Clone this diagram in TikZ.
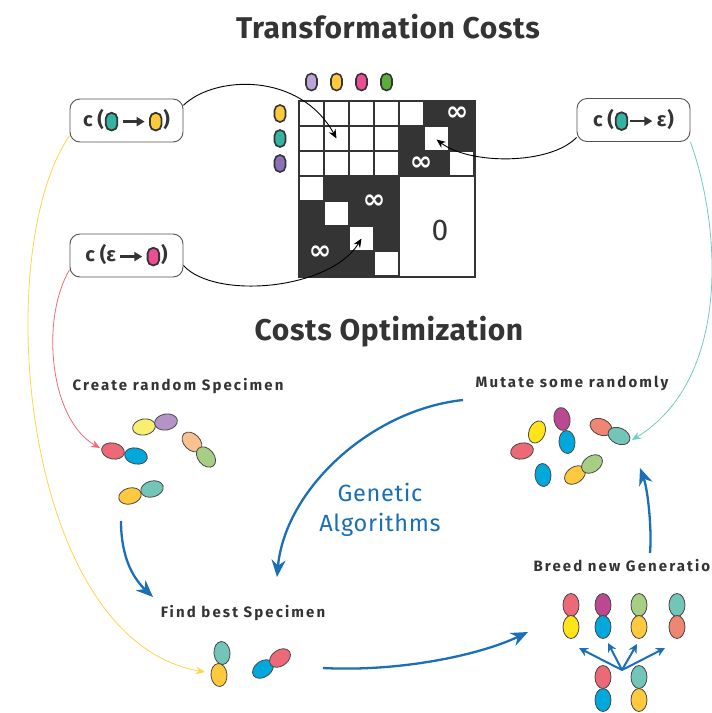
\documentclass[tikz,border=0pt]{standalone}
\usepackage{fontspec}
\setmainfont{Fira Sans}
\newfontfamily\symfont{DejaVu Sans}
\newfontfamily\titlefont[LetterSpace=2]{Fira Sans}
\newfontfamily\lblfont[LetterSpace=14]{Fira Sans}
\newfontfamily\gafont[LetterSpace=3]{Fira Sans}
\usetikzlibrary{arrows.meta,calc}

% palette
\definecolor{ink}{HTML}{343434}
\definecolor{gblue}{HTML}{1A6FB7}
\definecolor{cred}{HTML}{EC6A77}
\definecolor{cblue}{HTML}{00A8DC}
\definecolor{cyellow}{HTML}{FFE41A}
\definecolor{cgold}{HTML}{FFC93E}
\definecolor{cteal}{HTML}{73C5B7}
\definecolor{cpale}{HTML}{F8EE70}
\definecolor{clav}{HTML}{B493C9}
\definecolor{cpeach}{HTML}{F8C18E}
\definecolor{cgreen}{HTML}{A6CE85}
\definecolor{cmag}{HTML}{BB4992}
\definecolor{csalmon}{HTML}{EF8573}
\definecolor{tlav}{HTML}{BBA5D6}
\definecolor{tgold}{HTML}{FFC93C}
\definecolor{tpink}{HTML}{EC4E93}
\definecolor{tgreen}{HTML}{5CAE3B}
\definecolor{tteal}{HTML}{35B3A2}
\definecolor{tpurple}{HTML}{8C70B6}
\definecolor{lyellow}{HTML}{FFD54A}
\definecolor{lred}{HTML}{EF6B78}
\definecolor{lteal}{HTML}{6FCCC0}

% inline token pill and arrow used inside the cost boxes
\newcommand\tok[1]{\tikz[baseline=0pt,x=1pt,y=1pt]\draw[draw=ink,line width=1.8pt,fill=#1,rounded corners=5.5pt] (0,-3.5) rectangle ++(11.5,17.5);}
\newcommand\arr{\tikz[baseline=0pt,x=1pt,y=1pt]\draw[ink,line width=2.2pt,-{Triangle[length=8pt,width=9pt]}] (0,5.3)--(22,5.3);}
% a single chromosome half
\newcommand\egg[4]{\draw[egg,fill=#4,shift={(#1,#2)},rotate=#3] (0,0) ellipse (11.5 and 8);}

\begin{document}
\begin{tikzpicture}[x=1pt,y=-1pt,
  title/.style={font=\titlefont\bfseries\fontsize{30}{32}\selectfont,text=ink},
  lbl/.style={font=\lblfont\bfseries\fontsize{15}{16}\selectfont,text=ink},
  cbox/.style={draw=ink!85,line width=0.9pt,rounded corners=10pt,minimum width=113pt,minimum height=43pt,
    fill=white,font=\bfseries\fontsize{20}{20}\selectfont,text=ink,inner sep=0pt},
  tokn/.style={draw=ink,line width=1.6pt,minimum width=11pt,minimum height=17pt,rounded corners=5.5pt,inner sep=0pt},
  inf/.style={text=white,font=\symfont\bfseries\fontsize{27}{27}\selectfont,inner sep=0pt},
  egg/.style={draw=ink!90,line width=0.8pt},
  conn/.style={line width=0.9pt,-{Stealth[length=9pt,width=7.5pt]}},
  bigarrow/.style={draw=gblue,line width=2.3pt,-{Stealth[length=17pt,width=14pt]}},
  kidarrow/.style={draw=gblue,line width=2pt,-{Stealth[length=9pt,width=9pt]}}]

\clip (0,0) rectangle (712,713);
\fill[white] (0,0) rectangle (712,713);

% ---------- titles ----------
\node[title] (t1) at (388,27) {Transformation Costs};
\node[title] (t2) at (389,332) {Costs Optimization};

% ---------- cost matrix ----------
\fill[ink] (298,100) rectangle (476,278);
\foreach \r/\c in {0/0,0/1,0/2,0/3,1/0,1/1,1/2,1/3,2/0,2/1,2/2,2/3,
                   0/4,1/5,2/6,3/0,4/1,5/2,6/3}
  \fill[white] ({300+25*\c},{102+25*\r}) rectangle ++(23,23);
\fill[white] (400,177) rectangle (474,276);
\node[inf] at (457,114) {∞};
\node[inf] at (421,164) {∞};
\node[inf] at (374,202) {∞};
\node[inf] at (320,253) {∞};
\node[font=\fontsize{30}{30}\selectfont,text=ink] (zero) at (440,230) {0};
\coordinate (c11) at (336.5,138.5);
\coordinate (c15) at (436.5,139.5);
\coordinate (c52) at (361.5,238.5);

% tokens along the matrix
\node[tokn,fill=tlav]   (ta) at (311.5,82) {};
\node[tokn,fill=tgold]  (tb) at (336.5,82) {};
\node[tokn,fill=tpink]  (tc) at (361.5,82) {};
\node[tokn,fill=tgreen] (td) at (386.5,82) {};
\node[tokn,fill=tgold]   (sa) at (280,113.5) {};
\node[tokn,fill=tteal]   (sb) at (280,138.5) {};
\node[tokn,fill=tpurple] (sc) at (280,163.5) {};

% ---------- arrow targets on the specimens ----------
\coordinate (redtip) at (100,448);
\coordinate (tealtip) at (632,440);
\coordinate (goldtip) at (205,672);

% ---------- cost boxes ----------
\node[cbox] (b1) at (126.5,120.5) {c (\kern1pt\tok{tteal}\,\arr\,\tok{tgold}\kern1pt)};
\node[cbox] (b2) at (126.5,255.5) {c (ε\,\arr\,\tok{tpink}\kern1pt)};
\node[cbox] (b3) at (633.5,120) {c (\kern1pt\tok{tteal}\kern1pt\arr\,ε\kern1pt)};

% coloured cost links
\draw[conn,draw=lyellow,line width=0.8pt] (b1.195) .. controls (-10,250) and (20,640) .. (goldtip);
\draw[conn,draw=lred,line width=0.8pt] (b2.194) .. controls (40,320) and (50,420) .. (redtip);
\draw[conn,draw=lteal,line width=0.8pt] (b3.-21) .. controls (722,230) and (730,380) .. (tealtip);

% black connectors into the matrix
\draw[conn] (b1.15) .. controls (215,75) and (300,72) .. (c11);
\draw[conn] (b2.-10) .. controls (215,300) and (330,290) .. (c52);
\draw[conn] (b3.197) .. controls (550,165) and (470,165) .. (c15);

% ---------- step labels ----------
\node[lbl] (lcreate) at (178,386) {Create random Specimen};
\node[lbl] (lmutate) at (572,383) {Mutate some randomly};
\node[lbl] (lfind) at (243,613) {Find best Specimen};
\node[lbl,anchor=west] (lbreed) at (530,566) {Breed new Generation};
\node[text=gblue,font=\gafont\fontsize{23.5}{30}\selectfont,align=center] (ga) at (380,510) {Genetic\\Algorithms};

% ---------- random specimens ----------
\egg{144}{427}{10}{cpale}
\egg{166}{422}{10}{clav}
\egg{192}{442}{-45}{cpeach}
\egg{206}{457}{-50}{cgreen}
\egg{113}{451}{-12}{cred}
\egg{136}{456}{-12}{cblue}
\egg{130}{496}{15}{cgold}
\egg{152}{489}{15}{cteal}

% ---------- mutated specimens ----------
\egg{522}{451}{12}{cred}
\egg{537}{432}{68}{cyellow}
\egg{562}{419}{100}{cmag}
\egg{567}{442}{95}{cblue}
\egg{601}{427}{-25}{csalmon}
\egg{619}{436}{-25}{cteal}
\egg{543}{475}{95}{cblue}
\egg{575}{475}{35}{cgold}
\egg{592}{464}{35}{cgreen}

% ---------- best specimens ----------
\egg{222}{653}{95}{cteal}
\egg{219}{675}{95}{cgold}
\egg{263}{669}{35}{cblue}
\egg{280}{658}{35}{cred}

% ---------- new generation ----------
\foreach \x/\top/\bot in {571/cred/cyellow,603/cmag/cblue,639/cgreen/cgold,677/cteal/csalmon}{
  \egg{\x}{605}{90}{\top}
  \egg{\x}{627}{90}{\bot}
}
\egg{603}{677}{90}{cred}
\egg{603}{700}{90}{cblue}
\egg{639}{677}{90}{cteal}
\egg{639}{700}{90}{cgold}
\coordinate (bo) at (622,670);
\foreach \tx/\ty [count=\i] in {579/648,608/643,637/644,665/648}{
  \coordinate (bk\i) at (\tx,\ty);
  \draw[kidarrow] (bo) -- (bk\i);
}

% ---------- genetic algorithm cycle ----------
\coordinate (mS) at (463,400);
\coordinate (fE) at (277,577);
\coordinate (cS) at (121,521);
\coordinate (cE) at (153,597);
\coordinate (fS) at (323,668);
\coordinate (bE) at (528,632);
\coordinate (bS) at (650,553);
\coordinate (mE) at (640,468);
\draw[bigarrow] (mS) .. controls (370,410) and (285,490) .. (fE);
\draw[bigarrow] (cS) .. controls (121,560) and (135,580) .. (cE);
\draw[bigarrow] (fS) .. controls (400,672) and (480,655) .. (bE);
\draw[bigarrow] (bS) .. controls (652,530) and (648,490) .. (mE);

\end{tikzpicture}
\end{document}
